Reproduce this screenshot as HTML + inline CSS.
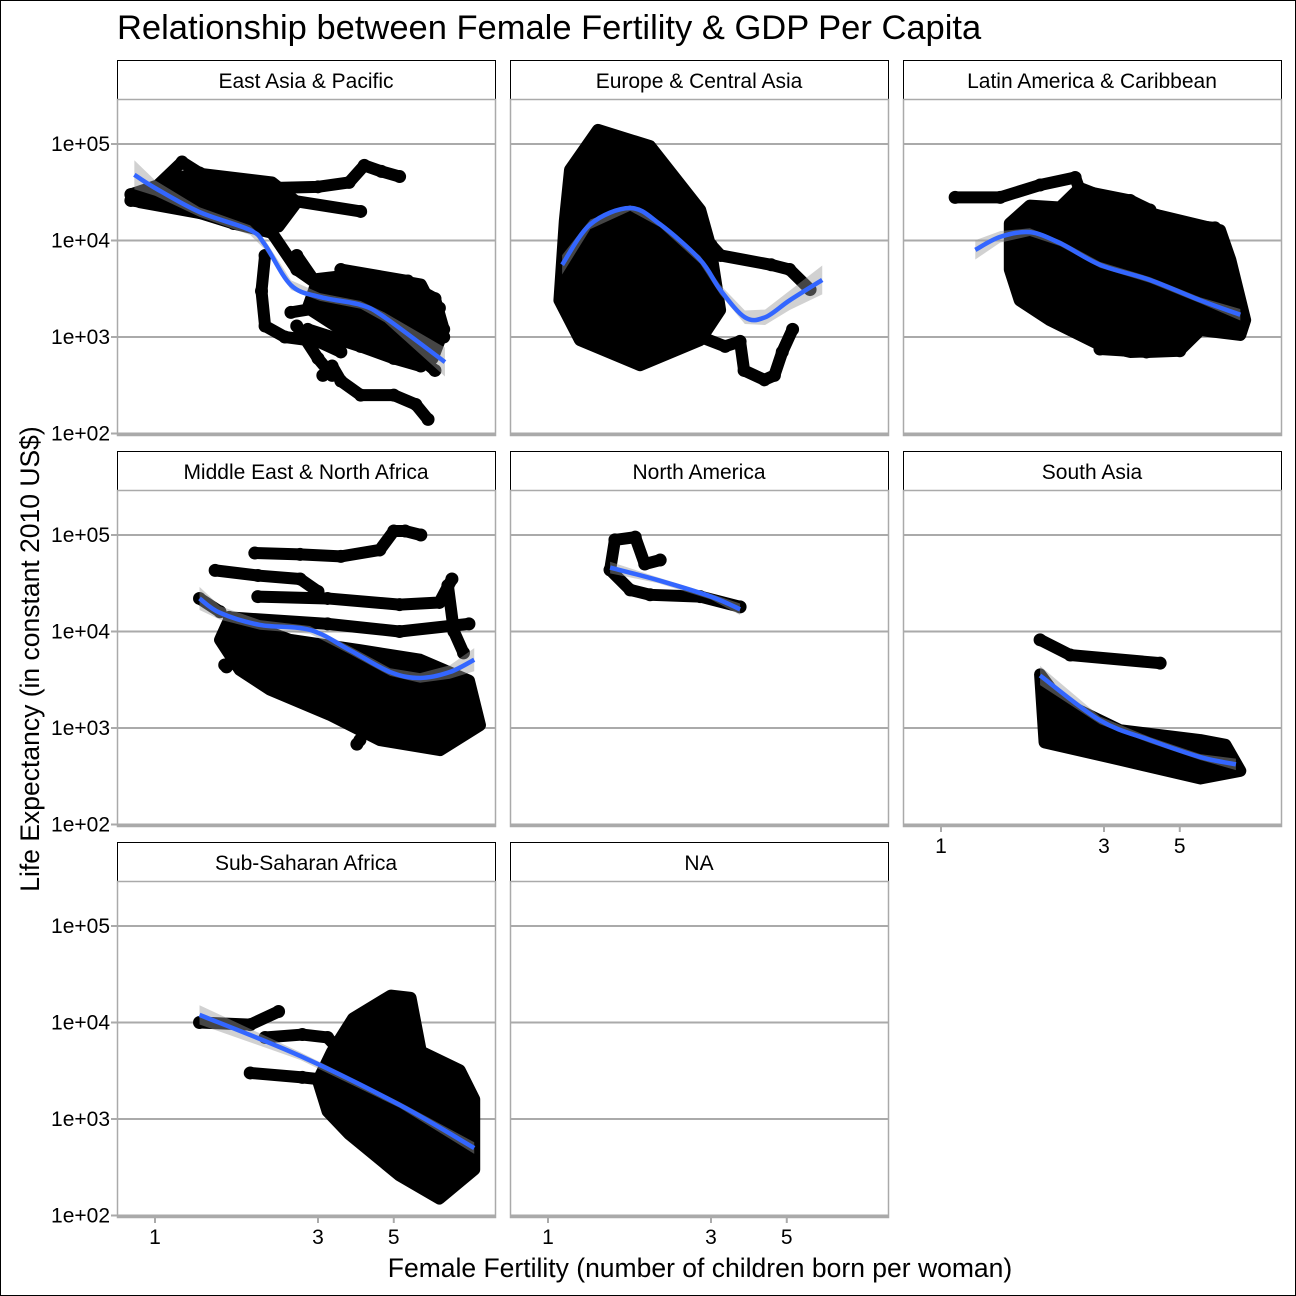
<!DOCTYPE html>
<html><head><meta charset="utf-8"><style>
body{margin:0;background:#fff}
svg{display:block;font-family:"Liberation Sans",sans-serif}
</style></head><body>
<svg id="chart" width="1296" height="1296" viewBox="0 0 1296 1296">
<rect x="0.5" y="0.5" width="1295" height="1295" fill="#fff" stroke="#000"/>
<text x="117" y="39" font-size="34.5" fill="#000">Relationship between Female Fertility &amp; GDP Per Capita</text>
<text x="700" y="1277" font-size="26.5" text-anchor="middle">Female Fertility (number of children born per woman)</text>
<text transform="translate(39,659) rotate(-90)" font-size="26.5" text-anchor="middle">Life Expectancy (in constant 2010 US$)</text>
<g id="layer"></g>
</svg>
<script>
const panelNames = ["East Asia & Pacific","Europe & Central Asia","Latin America & Caribbean","Middle East & North Africa","North America","South Asia","Sub-Saharan Africa","NA"];
const yTicks = [1e5,1e4,1e3,1e2];
const yTickLabels = ["1e+05","1e+04","1e+03","1e+02"];
const xTicks = [1,3,5];
const xTickLabels = ["1","3","5"];

// trajectories [fertility, gdp]
const eapBlob = [[0.85,3e4],[1.3,5e4],[2.2,4e4],[2.6,2.5e4],[2.3,1.4e4],[1.5,1.8e4],[0.9,2.5e4]];
const eapBlob2 = [[3,4e3],[4,4.5e3],[6,3.5e3],[7,1.2e3],[6.5,6e2],[5,7e2],[3.5,1.2e3],[2.8,2e3]];
const eapLines = [
 [[0.85,3e4],[1.0,3.5e4],[1.2,6.5e4],[1.35,5e4],[1.6,4e4],[2.2,3.5e4],[3,3.6e4],[3.7,4e4],[4.1,6e4],[4.6,5.2e4],[5.2,4.6e4]],
 [[1.5,3.5e4],[2.5,2.6e4],[4,2e4]],
 [[0.85,2.6e4],[1.2,2.2e4],[1.7,1.5e4],[2.2,1.2e4],[2.6,5e3],[3,3.5e3],[4,2.8e3],[5,2.5e3],[6,1.5e3],[7,1e3]],
 [[2.1,7e3],[2.05,3e3],[2.1,1.3e3],[2.4,1e3],[3,9e2],[3.5,7e2]],
 [[2.5,1.8e3],[3,2e3],[4,1.5e3],[5,1e3],[6.5,8e2]],
 [[3.1,4e2],[3.3,5e2],[3.5,3.5e2],[4,2.5e2],[5,2.5e2],[5.8,2e2],[6.3,1.4e2]],
 [[2.8,1.2e3],[4,8e2],[5,6e2],[6,5e2]],
 [[3.3,1.8e3],[4.5,1.2e3],[6,6e2],[6.6,4.5e2]],
 [[3,3.8e3],[4.5,3.5e3],[6,3e3],[6.6,2.5e3],[7,1.2e3]],
 [[3.5,5e3],[5.5,3.8e3],[6.8,2e3]],
 [[2.6,1.3e3],[3,6e2],[3.3,4e2]],
 [[2.6,7e3],[2.9,4e3]]
];
const ecaBlob = [[1.4,1.4e5],[1.99,9.5e4],[2.79,2.07e4],[2.98,9e3],[3.19,1.9e3],[2.79,9.3e2],[1.86,5.1e2],[1.24,9.3e2],[1.08,2.4e3],[1.12,1.6e4],[1.16,5.4e4]];
const ecaLines = [
 [[3.0,9e3],[3.2,7e3],[4.5,5.6e3],[5.1,5e3],[5.85,3.1e3]],
 [[2.8,1e3],[3.3,8e2],[3.65,9e2],[3.75,4.5e2],[4.3,3.6e2],[4.6,4e2],[4.85,7e2],[5.2,1.2e3]],
 [[1.75,8e2],[1.78,6e2]]
];
const lacBlob = [[1.59,1.5e4],[1.82,2.3e4],[2.23,2.2e4],[2.55,3.5e4],[3.58,2.2e4],[4.38,1.8e4],[6.56,1.28e4],[7.03,6.3e3],[7.77,1.5e3],[7.52,1.05e3],[5.74,1.18e3],[5,7.3e2],[3.58,7e2],[2.92,8.3e2],[2.08,1.5e3],[1.70,2.4e3],[1.59,5e3]];
const lacLines = [
 [[1.1,2.8e4],[1.49,2.8e4],[1.95,3.76e4],[2.47,4.5e4],[2.55,3.3e4],[3.58,2.6e4],[4.09,2.07e4]],
 [[4.1,1.6e4],[6.34,1.35e4]],
 [[2.92,7.5e2],[4,7e2],[5,7.2e2]]
];
const menaBlob = [[1.66,1.4e4],[2.48,8.2e3],[3.98,6.4e3],[5.97,5.1e3],[8.3,3.1e3],[8.94,1.07e3],[6.83,5.9e2],[4.55,7.5e2],[3.25,1.37e3],[2.17,2.5e3],[1.77,4e3],[1.55,8.2e3]];
const menaLines = [
 [[1.96,6.5e4],[2.66,6.3e4],[3.5,6e4],[4.55,7e4],[5,1.1e5],[5.4,1.1e5],[6,1e5]],
 [[1.5,4.3e4],[2.0,3.8e4],[2.66,3.5e4],[3.0,2.6e4]],
 [[2.0,2.3e4],[3.2,2.2e4],[5.2,1.9e4],[6.8,2e4],[7.4,3.5e4]],
 [[1.65,1.4e4],[3.2,1.2e4],[5.2,1e4],[8.3,1.2e4]],
 [[7.2,3e4],[7.5,1e4],[8,6e3]],
 [[1.35,2.2e4],[1.55,1.6e4]],
 [[1.6,4.5e3],[1.62,4.3e3]],
 [[3.98,7.5e2],[3.9,6.8e2]]
];
const naLines = [
 [[1.52,4.35e4],[1.57,8.9e4],[1.8,9.5e4],[1.92,5e4],[2.13,5.5e4]],
 [[1.52,4.35e4],[1.74,2.7e4],[1.99,2.4e4],[2.79,2.3e4],[3.65,1.8e4]]
];
const saBlob = [[1.95,3.6e3],[2.23,1.9e3],[3.34,9.5e2],[5.74,7.5e2],[6.8,6.7e2],[7.52,3.6e2],[5.74,3e2],[3.34,4.7e2],[2.01,7.1e2]];
const saLines = [[[1.95,8.2e3],[2.39,5.7e3],[4.38,4.7e3]]];
const ssaBlob = [[3.3,5e3],[3.8,1.1e4],[4.9,1.9e4],[5.6,1.8e4],[6,5e3],[7.8,3.2e3],[8.6,1.6e3],[8.6,3e2],[6.8,1.5e2],[5.2,2.6e2],[3.7,7e2],[3.2,1.2e3],[3.0,2.5e3]];
const ssaLines = [
 [[1.35,1e4],[1.9,9.5e3],[2.3,1.3e4]],
 [[2.1,7e3],[2.7,7.5e3],[3.2,7e3],[3.7,4e3]],
 [[1.9,3e3],[2.7,2.7e3],[3.3,2.5e3]]
];
// smooth fits [fertility, gdp] and se (decades)
const eapFit = [[0.87,4.8e4],[1,3.5e4],[1.35,1.97e4],[1.9,1.28e4],[2.1,9e3],[2.5,3.45e3],[3.04,2.6e3],[4,2.15e3],[4.7,1.6e3],[7.06,5.5e2]];
const eapSe = [0.15,0.08,0.05,0.05,0.05,0.05,0.04,0.04,0.05,0.15];
const ecaFit = [[1.1,5.6e3],[1.33,1.47e4],[1.74,2.17e4],[2.13,1.47e4],[2.79,6.3e3],[3.19,3.1e3],[3.77,1.6e3],[4.32,1.6e3],[5.1,2.4e3],[6.35,3.9e3]];
const ecaSe = [0.1,0.05,0.03,0.03,0.04,0.05,0.07,0.08,0.1,0.15];
const lacFit = [[1.26,8e3],[1.49,1.09e4],[1.82,1.22e4],[2.23,9.4e3],[2.92,5.6e3],[4.09,3.9e3],[5.74,2.4e3],[7.52,1.7e3]];
const lacSe = [0.1,0.06,0.04,0.03,0.03,0.03,0.03,0.06];
const menaFit = [[1.35,2.2e4],[1.55,1.56e4],[2.03,1.17e4],[2.84,1.04e4],[3.72,6.4e3],[4.88,3.8e3],[5.97,3.3e3],[7.3,3.8e3],[8.6,5.1e3]];
const menaSe = [0.12,0.07,0.05,0.04,0.04,0.04,0.05,0.07,0.12];
const naFit = [[1.52,4.6e4],[2.1,3.4e4],[3.0,2.3e4],[3.65,1.7e4]];
const naSe = [0.06,0.03,0.03,0.06];
const saFit = [[1.95,3.5e3],[2.92,1.2e3],[4.09,7.5e2],[5.74,5e2],[7.3,4.2e2]];
const saSe = [0.1,0.04,0.03,0.03,0.06];
const ssaFit = [[1.35,1.2e4],[2.66,4.5e3],[5.2,1.4e3],[8.6,5e2]];
const ssaSe = [0.1,0.04,0.03,0.06];

const panels = [
 {lines:eapLines,blobs:[eapBlob,eapBlob2],fit:eapFit,se:eapSe},
 {lines:ecaLines,blobs:[ecaBlob],fit:ecaFit,se:ecaSe},
 {lines:lacLines,blobs:[lacBlob],fit:lacFit,se:lacSe},
 {lines:menaLines,blobs:[menaBlob],fit:menaFit,se:menaSe},
 {lines:naLines,blobs:[],fit:naFit,se:naSe},
 {lines:saLines,blobs:[saBlob],fit:saFit,se:saSe},
 {lines:ssaLines,blobs:[ssaBlob],fit:ssaFit,se:ssaSe},
 {lines:[],blobs:[],fit:null,se:null}
];
const colX=[117,510,903], rowY=[99,490,881], PW=378, PH=336;
const NS="http://www.w3.org/2000/svg";
const layer=document.getElementById('layer');
function mk(tag,attrs,parent){const e=document.createElementNS(NS,tag);for(const k in attrs)e.setAttribute(k,attrs[k]);(parent||layer).appendChild(e);return e;}
function xS(px0,f){return px0+38+341.6*Math.log10(f);}
function yS(py0,g){return py0+45+96.5*(5-Math.log10(g));}
function smoothPath(pts){let d="M"+pts[0][0]+","+pts[0][1];for(let i=0;i<pts.length-1;i++){const p0=pts[i-1]||pts[i],p1=pts[i],p2=pts[i+1],p3=pts[i+2]||p2;const c1=[p1[0]+(p2[0]-p0[0])/6,p1[1]+(p2[1]-p0[1])/6],c2=[p2[0]-(p3[0]-p1[0])/6,p2[1]-(p3[1]-p1[1])/6];d+=" C"+c1+" "+c2+" "+p2;}return d;}
panels.forEach((p,i)=>{
 const c=i%3,r=Math.floor(i/3),X=colX[c],Y=rowY[r];
 const g=mk('g',{});
 
 
 const st=mk('rect',{x:X+0.5,y:Y-39+0.5,width:PW,height:39,fill:'#fff',stroke:'#000'},g);
 
 
 const stt=mk('text',{x:X+PW/2,y:Y-11,'font-size':21,'text-anchor':'middle'},g);
 stt.textContent=panelNames[i];
 
 
 const fr=mk('rect',{x:X+0.5,y:Y+0.5,width:PW,height:PH,fill:'#fff',stroke:'#aaa','stroke-width':1.5},g);
 
 
 yTicks.forEach((t,k)=>{const yy=yS(Y,t);
  const gl=mk('line',{x1:X,x2:X+PW,y1:yy,y2:yy,stroke:'#aaa','stroke-width':2},g);
  
  
  if(c===0){mk('line',{x1:X-6,x2:X,y1:yy,y2:yy,stroke:'#aaa','stroke-width':2},g);
   const tl=mk('text',{x:X-7,y:yy+7,'font-size':21,'text-anchor':'end'},g);tl.textContent=yTickLabels[k];
   
   }
 });
 mk('line',{x1:X,x2:X+PW,y1:Y+PH-1,y2:Y+PH-1,stroke:'#aaa','stroke-width':3},g);
 const drawX = (r===2)||(i===5);
 if(drawX){xTicks.forEach((t,k)=>{const xx=xS(X,t);
  mk('line',{x1:xx,x2:xx,y1:Y+PH,y2:Y+PH+6,stroke:'#aaa','stroke-width':2},g);
  const tl=mk('text',{x:xx,y:Y+PH+27,'font-size':21,'text-anchor':'middle'},g);tl.textContent=xTickLabels[k];
  
  });}
 p.blobs.forEach(b=>{const pg=mk('polygon',{points:b.map(d=>xS(X,d[0])+","+yS(Y,d[1])).join(" "),fill:'#000',stroke:'#000','stroke-width':12,'stroke-linejoin':'round'},g);
  
  });
 p.lines.forEach(ln=>{const pts=ln.map(d=>[xS(X,d[0]),yS(Y,d[1])]);
  const pl=mk('polyline',{points:pts.map(q=>q.join(",")).join(" "),fill:'none',stroke:'#000','stroke-width':12,'stroke-linejoin':'round','stroke-linecap':'round'},g);
  
  
  pts.forEach(q=>{const ci=mk('circle',{cx:q[0],cy:q[1],r:6.5,fill:'#000'},g);
   
   });});
 if(p.fit){
  const up=p.fit.map((d,k)=>[xS(X,d[0]),yS(Y,d[1])-96.5*p.se[k]]);
  const lo=p.fit.map((d,k)=>[xS(X,d[0]),yS(Y,d[1])+96.5*p.se[k]]).reverse();
  const rb=mk('polygon',{points:up.concat(lo).map(q=>q.join(",")).join(" "),fill:'#999','fill-opacity':0.45},g);
  
  
  const pts=p.fit.map(d=>[xS(X,d[0]),yS(Y,d[1])]);
  const sm=mk('path',{d:smoothPath(pts),fill:'none',stroke:'#3366FF','stroke-width':4.5},g);
  
  
 }
});
</script>
</body></html>
